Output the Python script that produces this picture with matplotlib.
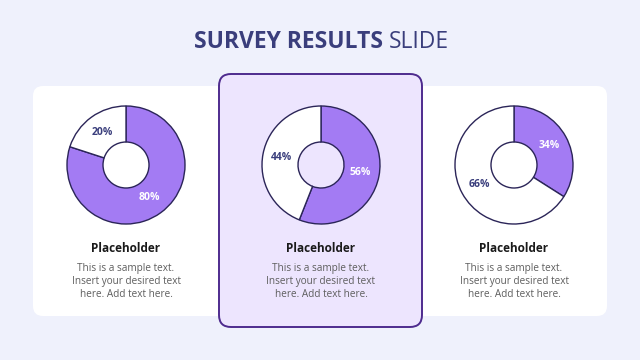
import matplotlib.pyplot as plt
from matplotlib.patches import FancyBboxPatch

plt.rcParams['font.family'] = ['Open Sans', 'DejaVu Sans']

BG = '#EFF1FC'
PURPLE = '#A37BF3'
EDGE = '#2B2558'
NAVY = '#3A3E7C'
GRAY = '#5E5E5E'

# data
purple_share = [80, 56, 34]
white_share = [20, 44, 66]
card_titles = ['Placeholder', 'Placeholder', 'Placeholder']
body_lines = ['This is a sample text.', 'Insert your desired text', 'here. Add text here.']

# layout (pixel coords, y measured from the bottom)
centers_x = [126, 321, 514]
center_y = 195
outer_r = 59
hole_r = 23

fig = plt.figure(figsize=(6.4, 3.6), dpi=100)
fig.patch.set_facecolor(BG)
ax = fig.add_axes([0, 0, 1, 1])
ax.set_facecolor(BG)

# side cards first, middle card on top
for x0, x1 in [(33, 232), (408, 607)]:
    ax.add_patch(FancyBboxPatch((x0, 44), x1 - x0, 230,
                                boxstyle='round,pad=0,rounding_size=10',
                                fc='white', ec='none', zorder=1))
ax.add_patch(FancyBboxPatch((219, 33), 203, 253,
                            boxstyle='round,pad=0,rounding_size=12',
                            fc='#EDE5FE', ec='#4E2B8E', lw=1.4, zorder=2))

for i, cx in enumerate(centers_x):
    wedges, texts, autotexts = ax.pie(
        [purple_share[i], white_share[i]],
        colors=[PURPLE, 'white'],
        startangle=90, counterclock=False,
        center=(cx, center_y), radius=outer_r,
        autopct=lambda p: f'{p:.0f}%', pctdistance=40 / outer_r,
        wedgeprops=dict(width=outer_r - hole_r, edgecolor=EDGE, linewidth=1.0),
        textprops=dict(fontsize=7.5, fontweight='bold'))
    for w in wedges:
        w.set_zorder(3)
    autotexts[0].set_color('white')
    autotexts[1].set_color(NAVY)
    for t in autotexts:
        t.set_zorder(4)

    ax.text(cx, 108, card_titles[i], ha='center', va='baseline',
            fontsize=8.5, fontweight='bold', color='#1A1A1A', zorder=5)
    for j, line in enumerate(body_lines):
        ax.text(cx, 89 - j * 13, line, ha='center', va='baseline',
                fontsize=7.2, color=GRAY, zorder=5)

ax.text(383, 312, 'SURVEY RESULTS', ha='right', va='baseline',
        fontsize=16.5, fontweight='bold', color=NAVY)
ax.text(389, 312, 'SLIDE', ha='left', va='baseline',
        fontsize=16.5, color=NAVY)

ax.set_xlim(0, 640)
ax.set_ylim(0, 360)
ax.set_aspect('auto')
ax.axis('off')

fig.savefig('out.png', dpi=100, facecolor=BG)
